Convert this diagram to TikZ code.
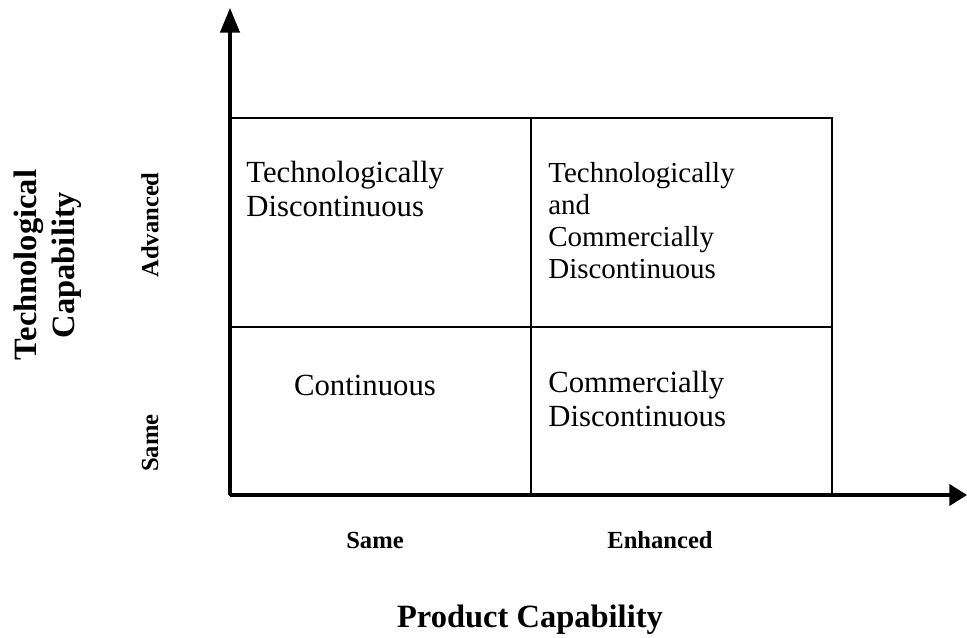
\documentclass[tikz,border=0pt]{standalone}
\usepackage{fontspec}
\setmainfont{Liberation Serif}
\usetikzlibrary{arrows.meta}
\tikzset{
  axislabel/.style={font=\bfseries\fontsize{14}{16}\selectfont},
  axistitle/.style={font=\bfseries\fontsize{18.5}{21.5}\selectfont,align=center},
  celltext/.style={font=\fontsize{17.5}{19.5}\selectfont,align=left,anchor=north west,inner sep=0pt},
}
\begin{document}
\begin{tikzpicture}[x=0.02cm,y=-0.02cm]
\useasboundingbox (0,0) rectangle (967,638);
\coordinate (origin) at (230,495);
\coordinate (ytip) at (230,8);
\coordinate (xtip) at (967,495);
\draw[line width=1.2pt]  (230,118) rectangle (832,495);
\draw[line width=1.2pt]  (531,118) -- (531,495);
\draw[line width=1.2pt]  (230,327) -- (832,327);
\draw[-{Triangle[length=14pt,width=11pt]},line width=1.9pt] (origin) -- (ytip);
\draw[-{Triangle[length=10pt,width=12pt]},line width=1.9pt] (origin) -- (xtip);
\node[celltext] (techdisc) at (246,161) {Technologically\\Discontinuous};
\node[celltext,font=\fontsize{16.5}{18.2}\selectfont] (bothdisc) at (548,162) {Technologically\\and\\Commercially\\Discontinuous};
\node[font=\fontsize{17.5}{19.5}\selectfont] (cont) at (365,385) {Continuous};
\node[celltext] (commdisc) at (548,371) {Commercially\\Discontinuous};
\node[axislabel] (xsame) at (375,540) {Same};
\node[axislabel] (xenh) at (660,540) {Enhanced};
\node[axistitle] (xtitle) at (530,620) {Product Capability};
\node[axislabel,rotate=90] (yadv) at (150,225) {Advanced};
\node[axislabel,rotate=90] (ysame) at (150,443) {Same};
\node[axistitle,rotate=90] (ytitle) at (48,265) {Technological\\Capability};
\end{tikzpicture}
\end{document}
